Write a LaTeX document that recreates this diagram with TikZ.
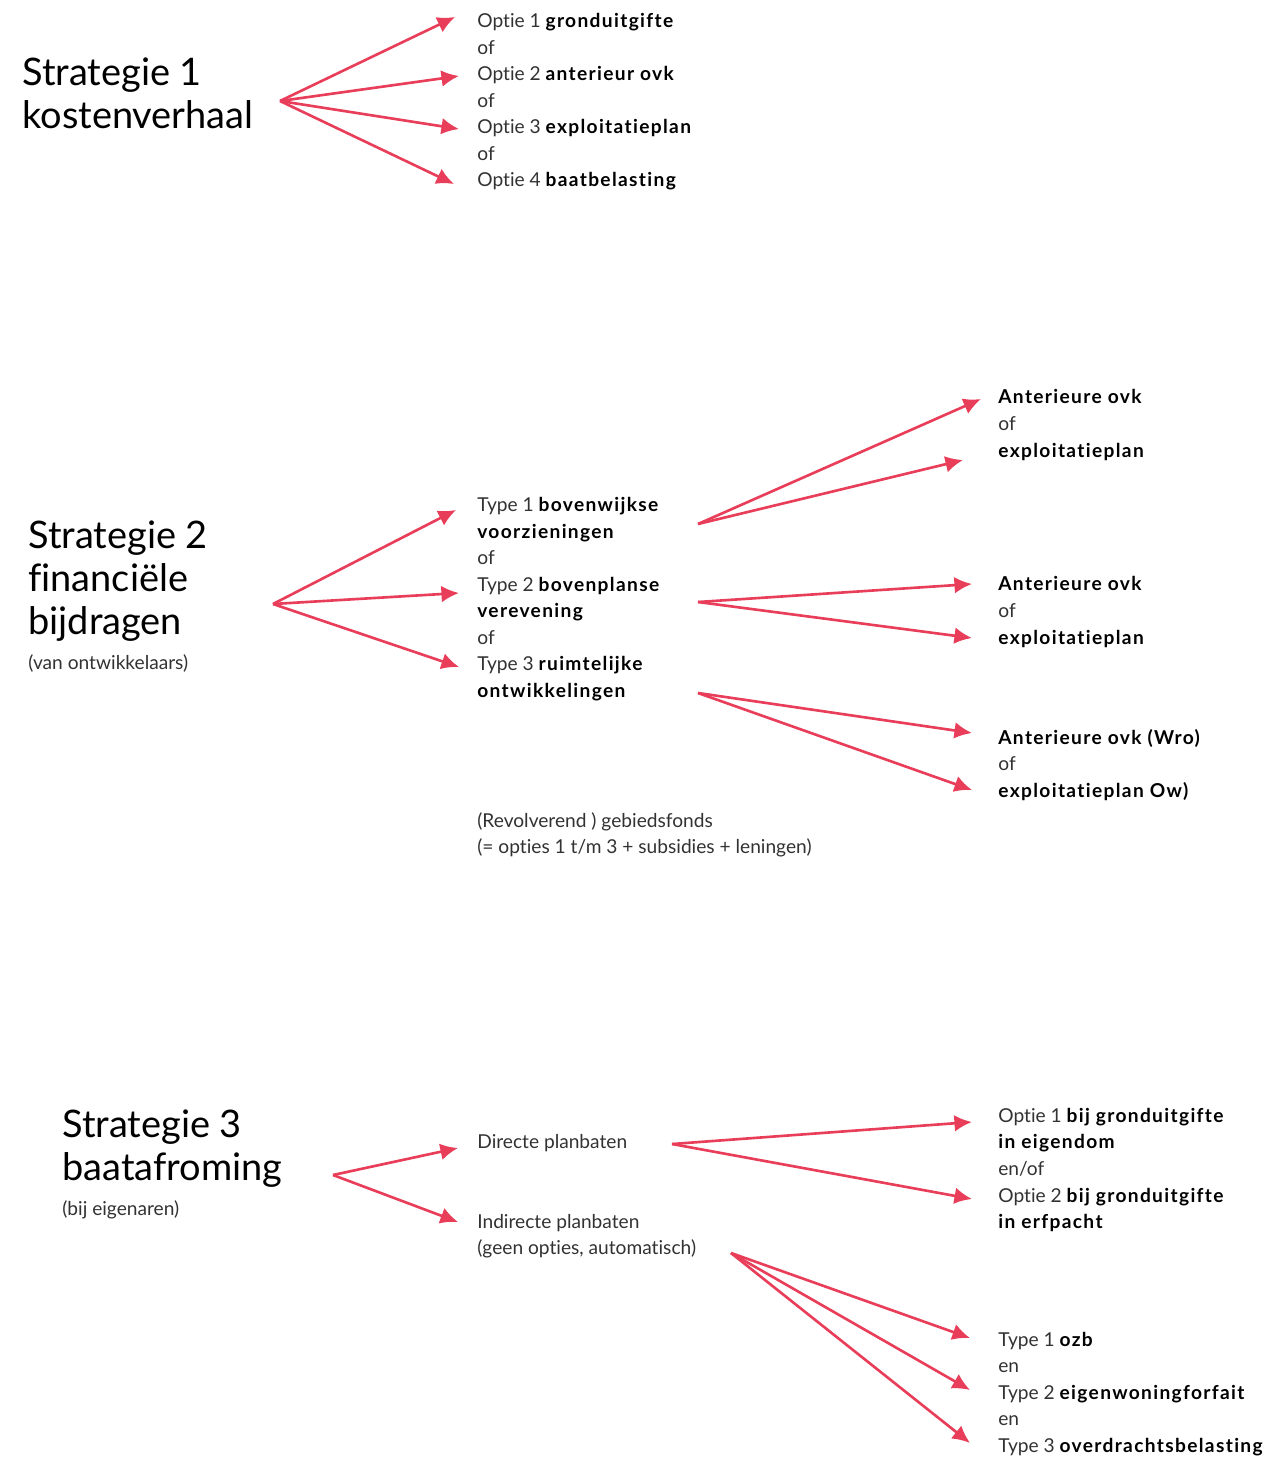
\documentclass[tikz,border=0pt]{standalone}
\usepackage{fontspec}
\setmainfont{Lato}[Ligatures=NoCommon]
\usetikzlibrary{arrows.meta}
\definecolor{pijlrood}{RGB}{233,62,90}
\definecolor{tekstgrijs}{RGB}{50,50,50}
\newcommand{\vet}[1]{{\addfontfeature{LetterSpace=7}\textcolor{black}{\textbf{#1}}}}
\tikzset{
  vec/.style = {color=#1, line width=1.5pt, -{Latex[length=10pt,width=9.5pt]}},
  title/.style = {anchor=west, align=left, inner sep=0pt, text=black, font=\fontsize{21.6}{24.4}\selectfont},
  body/.style = {anchor=west, align=left, inner sep=0pt, text=tekstgrijs, font=\fontsize{10.9}{15.1}\selectfont}
}

\begin{document}
\begin{tikzpicture}[x=0.02cm, y=-0.02cm]

    \useasboundingbox (0,0) rectangle (1275,1459);

    % Strategie 1
    \node[title] (strat1) at (22,93) {Strategie 1\\kostenverhaal};
    \node[body] (opties1) at (477,102) {Optie 1 \vet{gronduitgifte}\\of\\Optie 2 \vet{anterieur ovk}\\of\\Optie 3 \vet{exploitatieplan}\\of\\Optie 4 \vet{baatbelasting}};

    % Strategie 2
    \node[title] (strat2) at (28,581) {Strategie 2\\financiële\\bijdragen};
    \node[body] (strat2sub) at (28,663) {(van ontwikkelaars)};
    \node[body] (types2) at (477,599) {Type 1 \vet{bovenwijkse}\\\vet{voorzieningen}\\of\\Type 2 \vet{bovenplanse}\\\vet{verevening}\\of\\Type 3 \vet{ruimtelijke}\\\vet{ontwikkelingen}};
    \node[body] (keuze1) at (998,425) {\vet{Anterieure ovk}\\of\\\vet{exploitatieplan}};
    \node[body] (keuze2) at (998,612) {\vet{Anterieure ovk}\\of\\\vet{exploitatieplan}};
    \node[body] (keuze3) at (998,765) {\vet{Anterieure ovk (Wro)}\\of\\\vet{exploitatieplan Ow)}};
    \node[body] (fonds) at (477,835) {(Revolverend ) gebiedsfonds\\(= opties 1 t/m 3 + subsidies + leningen)};

    % Strategie 3
    \node[title] (strat3) at (62,1149) {Strategie 3\\baatafroming};
    \node[body] (strat3sub) at (62,1210) {(bij eigenaren)};
    \node[body] (direct) at (477,1143) {Directe planbaten};
    \node[body] (indirect) at (477,1236) {Indirecte planbaten\\(geen opties, automatisch)};
    \node[body] (uitgifte) at (998,1170) {Optie 1 \vet{bij gronduitgifte}\\\vet{in eigendom}\\en/of\\Optie 2 \vet{bij gronduitgifte}\\\vet{in erfpacht}};
    \node[body] (belasting) at (998,1394) {Type 1 \vet{ozb}\\en\\Type 2 \vet{eigenwoningforfait}\\en\\Type 3 \vet{overdrachtsbelasting}};

    % Coordinates
    \coordinate (s1) at (280,101);
    \coordinate (t1a) at (455,17);
    \coordinate (t1b) at (459,76);
    \coordinate (t1c) at (459,129);
    \coordinate (t1d) at (454,184);

    \coordinate (s2) at (273,604);
    \coordinate (t2a) at (456,510);
    \coordinate (t2b) at (459,593);
    \coordinate (t2c) at (459,667);

    \coordinate (s2a) at (698,524);
    \coordinate (t2aa) at (981,399);
    \coordinate (t2ab) at (963,460);
    \coordinate (s2b) at (698,602);
    \coordinate (t2ba) at (972,584);
    \coordinate (t2bb) at (972,638);
    \coordinate (s2c) at (698,693);
    \coordinate (t2ca) at (972,733);
    \coordinate (t2cb) at (972,790);

    \coordinate (s3) at (333,1175);
    \coordinate (t3a) at (458,1148);
    \coordinate (t3b) at (458,1222);
    \coordinate (s3a) at (672,1144);
    \coordinate (t3aa) at (972,1122);
    \coordinate (t3ab) at (972,1199);
    \coordinate (s3b) at (731,1253);
    \coordinate (t3ba) at (970,1338);
    \coordinate (t3bb) at (970,1390);
    \coordinate (t3bc) at (970,1443);

    % Arrows
    \foreach \t in {t1a,t1b,t1c,t1d}
      \draw[vec={pijlrood}] (s1) -- (\t);
    \foreach \t in {t2a,t2b,t2c}
      \draw[vec={pijlrood}] (s2) -- (\t);
    \foreach \t in {t2aa,t2ab}
      \draw[vec={pijlrood}] (s2a) -- (\t);
    \foreach \t in {t2ba,t2bb}
      \draw[vec={pijlrood}] (s2b) -- (\t);
    \foreach \t in {t2ca,t2cb}
      \draw[vec={pijlrood}] (s2c) -- (\t);
    \foreach \t in {t3a,t3b}
      \draw[vec={pijlrood}] (s3) -- (\t);
    \foreach \t in {t3aa,t3ab}
      \draw[vec={pijlrood}] (s3a) -- (\t);
    \foreach \t in {t3ba,t3bb,t3bc}
      \draw[vec={pijlrood}] (s3b) -- (\t);

\end{tikzpicture}
\end{document}
